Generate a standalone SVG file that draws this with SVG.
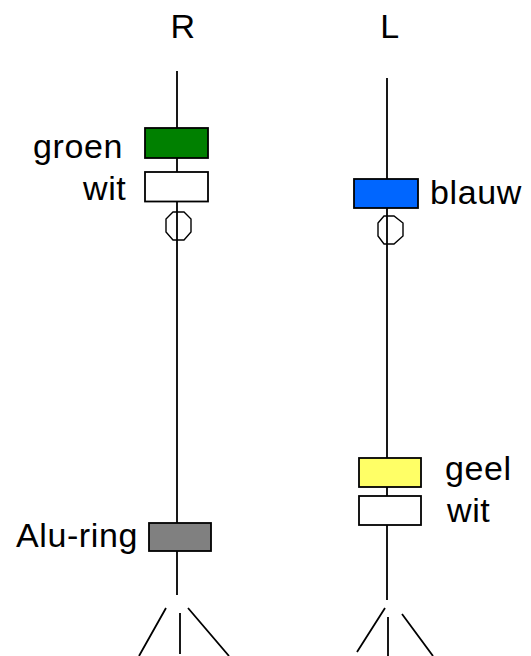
<svg xmlns="http://www.w3.org/2000/svg" width="531" height="656" viewBox="0 0 531 656">
<style>
text{font-family:"Liberation Sans",Arial,sans-serif;font-size:34px;letter-spacing:.6px;fill:#000}
.l{stroke:#000;stroke-width:1.8;fill:none}
.b{stroke:#000;stroke-width:1.8}
.o{stroke:#000;stroke-width:1.4;fill:none}
</style>
<rect width="531" height="656" fill="#fff"/>
<g id="connectors">
<path class="l" d="M177 71V595M387 78V600"/>
<path class="l" d="M166 608L139 656M180 613V654M188 608L229 656"/>
<path class="l" d="M385 608L357 652M388 617V656M402 614L433 656"/>
</g>
<g id="title-r"><text x="183" y="38" text-anchor="middle">R</text></g>
<g id="title-l"><text x="390" y="38" text-anchor="middle">L</text></g>
<g id="groen"><rect class="b" x="145" y="128" width="63" height="30" fill="#008000"/><text x="33" y="158">groen</text></g>
<g id="wit-r"><rect class="b" x="145" y="172" width="63" height="29.500" fill="#fff"/><text x="83" y="200">wit</text></g>
<g id="ring-r"><path class="o" d="M173 212H184L191 219V232L184 240H173L166 232V219Z"/></g>
<g id="blauw"><rect class="b" x="354" y="179" width="64" height="29" fill="#0066ff"/><text x="430" y="204">blauw</text></g>
<g id="ring-l"><path class="o" d="M384 216H394L403 223V236L394 244H384L378 236V223Z"/></g>
<g id="geel"><rect class="b" x="359" y="458" width="62" height="29" fill="#ffff66"/><text x="445" y="480">geel</text></g>
<g id="wit-l"><rect class="b" x="359" y="496" width="62" height="29" fill="#fff"/><text x="447" y="522">wit</text></g>
<g id="alu"><rect class="b" x="149" y="523" width="62" height="28" fill="#808080"/><text x="16" y="547">Alu-ring</text></g>
</svg>
